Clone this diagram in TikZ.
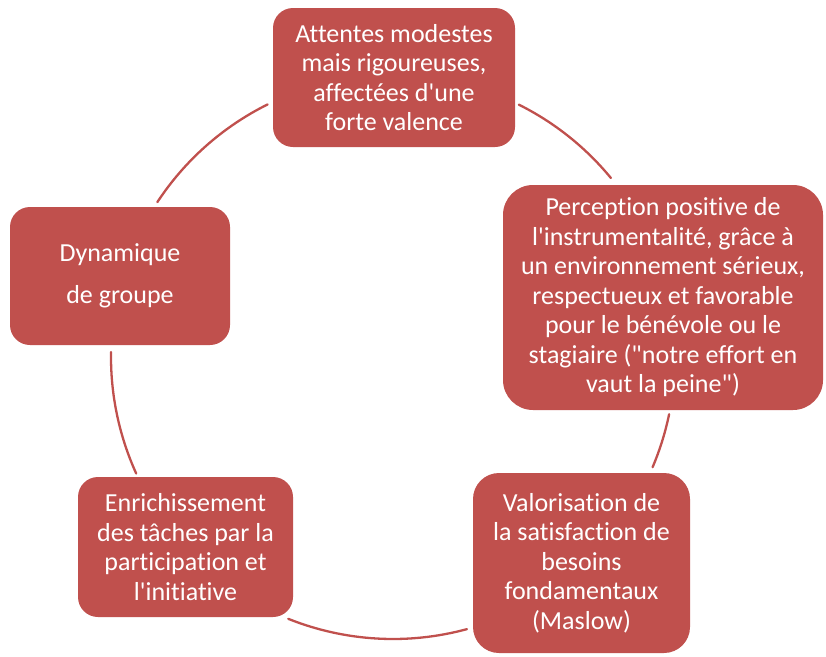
\documentclass[tikz,border=0pt]{standalone}
\usepackage{fontspec}
\newfontfamily\calib{Carlito}[Ligatures={NoCommon,NoContextual}]
\definecolor{boxred}{HTML}{C0504D}
\begin{document}
\begin{tikzpicture}[x=1pt,y=1pt,
  box/.style={fill=boxred, draw=none, text=white, align=center, inner sep=0pt,
    font=\calib\fontsize{26}{29.5}\selectfont},
  link/.style={draw=boxred, line width=2.3pt, line cap=round}]
\useasboundingbox (0,0) rectangle (826,-656);
\coordinate (c) at (393,-357);
\node[box, minimum width=242pt, minimum height=139pt, rounded corners=20pt] (top) at (394,-77.5)
  {Attentes modestes\\mais rigoureuses,\\affectées d'une\\forte valence};
\node[box, minimum width=320pt, minimum height=225pt, rounded corners=30pt] (right) at (663,-297.5)
  {Perception positive de\\l'instrumentalité, grâce à\\un environnement sérieux,\\respectueux et favorable\\pour le bénévole ou le\\stagiaire ("notre effort en\\vaut la peine")};
\node[box, minimum width=217pt, minimum height=180pt, rounded corners=26pt] (bright) at (581.5,-563)
  {Valorisation de\\la satisfaction de\\besoins\\fondamentaux\\(Maslow)};
\node[box, minimum width=215pt, minimum height=140pt, rounded corners=20pt] (bleft) at (185.5,-547)
  {Enrichissement\\des tâches par la\\participation et\\l'initiative};
\node[box, minimum width=220pt, minimum height=138pt, rounded corners=20pt,
  font=\calib\fontsize{26}{42}\selectfont] (left) at (120,-276)
  {Dynamique\\de groupe};
% cycle arcs (centre c, radius 282)
\draw[link] ([shift={(63.5:282)}]c) arc[start angle=63.5, end angle=39.4, radius=282];
\draw[link] ([shift={(-11.7:282)}]c) arc[start angle=-11.7, end angle=-23.0, radius=282];
\draw[link] ([shift={(-74.8:282)}]c) arc[start angle=-74.8, end angle=-111.8, radius=282];
\draw[link] ([shift={(204.4:282)}]c) arc[start angle=204.4, end angle=179.0, radius=282];
\draw[link] ([shift={(146.7:282)}]c) arc[start angle=146.7, end angle=116.4, radius=282];
\end{tikzpicture}
\end{document}
